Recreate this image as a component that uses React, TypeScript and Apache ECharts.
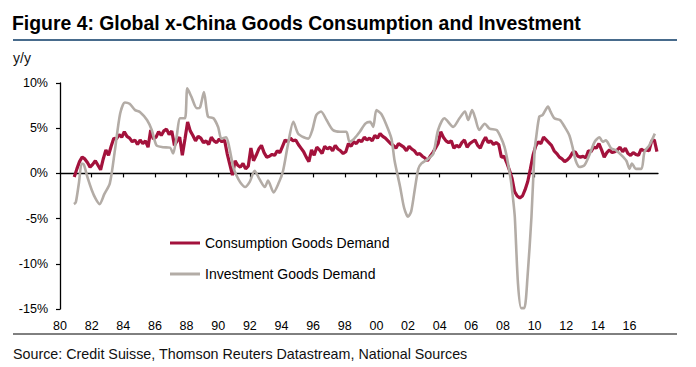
import React, { useEffect, useRef } from "react";
import * as echarts from "echarts";

const title = "Figure 4: Global x-China Goods Consumption and Investment";
const unitLabel = "y/y";
const sourceText = "Source: Credit Suisse, Thomson Reuters Datastream, National Sources";
const seriesNames = ["Consumption Goods Demand", "Investment Goods Demand"];

const xMin = 1980;
const xMax = 2017.8;
const tickYears = [1980, 1982, 1984, 1986, 1988, 1990, 1992, 1994, 1996, 1998, 2000, 2002, 2004, 2006, 2008, 2010, 2012, 2014, 2016];
const yTicks = [-15, -10, -5, 0, 5, 10];

// consumption goods demand, y/y %, one value every two months from late 1980
const consStart = 1980.9;
const consStep = 1 / 6;
const consumption = [
  -0.4,
  0.5, 1.3, 1.8, 1.6, 1.2, 0.7,
  1.0, 1.4, 0.9, 0.4, 1.6, 2.6,
  2.0, 3.0, 3.9, 3.8, 4.3, 4.0,
  4.6, 4.1, 3.9, 3.5, 3.7, 3.2,
  3.7, 3.3, 3.6, 2.9, 4.8, 3.8,
  4.0, 4.6, 4.2, 4.7, 4.9, 4.3,
  4.7, 3.1, 3.6, 4.0, 2.0, 3.8,
  5.7, 4.7, 4.2, 3.6, 4.1, 3.9,
  3.4, 3.6, 3.2, 4.0, 3.6, 3.4,
  3.8, 3.5, 3.7, 2.2, 1.0, -0.2,
  1.4, 0.9, 0.7, 1.1, 0.5, 0.8,
  2.8, 1.4, 2.0, 2.7, 3.1, 2.3,
  1.8, 1.9, 2.1, 2.0, 2.5, 2.3,
  3.0, 3.7, 3.5, 3.9, 3.6, 3.7,
  3.2, 2.8, 2.4, 1.8, 1.3, 2.6,
  2.0, 2.9, 2.6, 2.2, 3.0, 2.7,
  2.9, 2.5, 3.1, 2.7, 2.5, 2.2,
  2.4, 3.3, 3.0, 3.5, 3.3, 3.7,
  3.5, 4.0, 3.7, 3.9, 3.6, 4.2,
  3.9, 4.4, 4.1, 3.9, 3.6, 3.3,
  3.1, 2.8, 3.3, 3.1, 2.9, 2.5,
  3.0, 2.7, 2.5, 2.1, 2.2, 1.9,
  1.7, 1.4, 1.9, 2.3, 2.8, 3.3,
  4.6, 4.0, 3.6, 3.4, 3.6, 2.8,
  3.1, 2.9, 3.4, 3.7, 2.9, 3.3,
  3.5, 3.7, 3.1, 2.8, 3.5, 4.0,
  3.4, 3.6, 3.2, 3.4, 3.2, 1.8,
  1.9, 1.2, 0.4, -0.5, -2.0, -2.5,
  -2.7, -2.5, -1.8, -0.9, 0.5, 2.0,
  3.0, 3.5, 3.3, 4.0, 3.7, 3.4,
  3.1, 2.5, 2.2, 1.8, 1.6, 1.3,
  1.5, 1.8, 2.3, 2.4, 1.9, 1.8,
  1.9, 1.7, 2.5, 2.4, 2.9, 2.8,
  3.3, 2.6, 1.8, 2.3, 2.6, 2.3,
  2.4, 2.6, 2.9, 2.4, 2.8, 2.2,
  2.0, 2.3, 2.1, 2.0, 2.7, 2.5,
  2.6, 2.5, 3.6, 3.7, 2.4,
];

// investment goods demand, y/y %: [year, value]
const investment = [
  [1980.88, -3.4], [1981.0, -3.2], [1981.2, -1.0], [1981.37, 1.1], [1981.5, 1.0], [1981.75, -0.5],
  [1982.0, -1.8], [1982.25, -2.8], [1982.5, -3.4], [1982.8, -2.3], [1983.15, -1.1], [1983.47, 2.55],
  [1983.8, 6.6], [1984.1, 7.85], [1984.4, 7.7], [1984.75, 7.0], [1985.05, 6.8], [1985.5, 5.9],
  [1985.8, 4.8], [1986.1, 3.1], [1986.5, 2.9], [1986.95, 2.85], [1987.15, 2.2], [1987.35, 3.8],
  [1987.6, 6.1], [1987.9, 6.1], [1988.05, 9.4], [1988.3, 8.5], [1988.65, 7.2], [1988.85, 7.3],
  [1989.1, 9.0], [1989.35, 6.3], [1989.7, 6.1], [1990.0, 5.1], [1990.2, 3.85], [1990.5, 4.0],
  [1990.7, 2.9], [1990.95, 0.7], [1991.15, -0.2], [1991.4, -1.0], [1991.7, -1.5], [1992.0, -0.9],
  [1992.3, 0.3], [1992.6, -0.6], [1992.95, -1.5], [1993.15, -0.8], [1993.5, -2.1], [1993.8, -1.15],
  [1994.1, 0.3], [1994.4, 3.1], [1994.75, 5.7], [1995.05, 4.4], [1995.4, 4.0], [1995.7, 3.85],
  [1995.95, 4.8], [1996.2, 6.45], [1996.5, 6.85], [1996.85, 5.9], [1997.25, 4.8], [1997.7, 4.6],
  [1998.1, 4.6], [1998.3, 3.5], [1998.6, 3.85], [1998.95, 4.6], [1999.3, 5.5], [1999.6, 5.7],
  [1999.8, 5.15], [2000.0, 7.0], [2000.3, 6.6], [2000.6, 5.5], [2000.95, 3.85], [2001.15, 1.4],
  [2001.5, -1.5], [2001.75, -3.8], [2002.0, -4.8], [2002.2, -4.2], [2002.45, -1.5], [2002.65, 0.5],
  [2002.85, 1.1], [2003.3, 1.65], [2003.6, 2.2], [2003.9, 4.8], [2004.3, 6.1], [2004.85, 5.15],
  [2005.25, 6.1], [2005.6, 6.85], [2005.8, 5.9], [2006.05, 7.0], [2006.25, 6.1], [2006.5, 4.8],
  [2006.85, 5.5], [2007.15, 4.95], [2007.6, 4.8], [2007.9, 3.85], [2008.1, 2.9], [2008.3, 1.3],
  [2008.5, -0.8], [2008.65, -3.0], [2008.75, -4.85], [2008.95, -12.2], [2009.15, -14.9], [2009.35, -14.9],
  [2009.55, -11.5], [2009.8, -4.85], [2010.0, 2.55], [2010.1, 4.0], [2010.3, 6.3], [2010.5, 6.45],
  [2010.85, 7.4], [2011.0, 6.85], [2011.25, 6.1], [2011.6, 5.9], [2011.9, 5.15], [2012.2, 4.2],
  [2012.4, 2.9], [2012.6, 1.4], [2012.85, 0.7], [2013.15, 0.9], [2013.5, 2.2], [2013.8, 3.5],
  [2014.1, 4.0], [2014.3, 3.5], [2014.5, 3.65], [2014.85, 2.75], [2015.15, 2.55], [2015.5, 2.0],
  [2015.8, 1.4], [2016.0, 0.5], [2016.15, 1.1], [2016.4, 0.5], [2016.75, 0.5], [2016.95, 2.4],
  [2017.25, 3.1], [2017.6, 4.4],
];

const FONT = "'Liberation Sans', Arial, Helvetica, sans-serif";

export default function App() {
  const ref = useRef<HTMLDivElement>(null);

  useEffect(() => {
    if (!ref.current) return;
    const chart = echarts.init(ref.current, null, { renderer: "svg" });
    const consData = consumption.map((v, i) => [consStart + i * consStep, v]);

    chart.setOption({
      animation: false,
      backgroundColor: "#ffffff",
      textStyle: { fontFamily: FONT },
      grid: { left: 60, right: 38, top: 83, bottom: 58, containLabel: false },
      legend: {
        data: seriesNames,
        orient: "vertical",
        left: 170,
        top: 236,
        padding: 0,
        itemWidth: 30,
        itemHeight: 3,
        itemGap: 17,
        icon: "rect",
        textStyle: { fontFamily: FONT, fontSize: 14, color: "#000" },
      },
      xAxis: [
        {
          type: "value",
          min: xMin,
          max: xMax,
          interval: 2,
          position: "bottom",
          axisLine: { show: false, onZero: false },
          axisTick: { show: false },
          splitLine: { show: false },
          axisLabel: {
            fontFamily: FONT,
            fontSize: 12.5,
            color: "#000",
            margin: 10,
            customValues: tickYears,
            formatter: (v: number) =>
              Math.abs(v - Math.round(v)) > 1e-6 ? "" : String(Math.round(v) % 100).padStart(2, "0"),
          },
        },
        {
          type: "value",
          min: xMin,
          max: xMax,
          interval: 2,
          position: "bottom",
          axisLine: { show: true, onZero: true, lineStyle: { color: "#000", width: 1.3 } },
          axisTick: { show: true, length: 4, lineStyle: { color: "#000", width: 1.2 }, customValues: tickYears.slice(1) },
          axisLabel: { show: false },
          splitLine: { show: false },
        },
      ],
      yAxis: {
        type: "value",
        min: yTicks[0],
        max: yTicks[yTicks.length - 1],
        interval: 5,
        axisLine: { show: true, onZero: false, lineStyle: { color: "#000", width: 1.3 } },
        axisTick: { show: true, length: 4, lineStyle: { color: "#000", width: 1.2 } },
        splitLine: { show: false },
        axisLabel: {
          fontFamily: FONT,
          fontSize: 12.5,
          color: "#000",
          margin: 12,
          formatter: (v: number) => `${v}%`,
        },
      },
      series: [
        {
          name: seriesNames[0],
          type: "line",
          xAxisIndex: 0,
          data: consData,
          symbol: "none",
          lineStyle: { color: "#a3123c", width: 3.2 },
          itemStyle: { color: "#a3123c" },
          z: 3,
        },
        {
          name: seriesNames[1],
          type: "line",
          xAxisIndex: 0,
          data: investment,
          symbol: "none",
          smooth: 0.25,
          lineStyle: { color: "#b3aca6", width: 2.6 },
          itemStyle: { color: "#b3aca6" },
          z: 4,
        },
      ],
      graphic: [
        {
          type: "text",
          left: 12,
          top: 13,
          style: { text: title, font: `bold 19.4px ${FONT}`, fill: "#000" },
        },
        {
          type: "line",
          shape: { x1: 13, y1: 40, x2: 677, y2: 40 },
          style: { stroke: "#0b3a66", lineWidth: 1.5 },
        },
        {
          type: "text",
          left: 13,
          top: 51,
          style: { text: unitLabel, font: `14px ${FONT}`, fill: "#111" },
        },
        {
          type: "line",
          shape: { x1: 13, y1: 334, x2: 677, y2: 334 },
          style: { stroke: "#000", lineWidth: 1 },
        },
        {
          type: "text",
          left: 13,
          top: 347,
          style: { text: sourceText, font: `14.3px ${FONT}`, fill: "#111" },
        },
      ],
    });

    return () => chart.dispose();
  }, []);

  return <div ref={ref} style={{ width: 696, height: 367, position: "absolute", left: 0, top: 0 }} />;
}
